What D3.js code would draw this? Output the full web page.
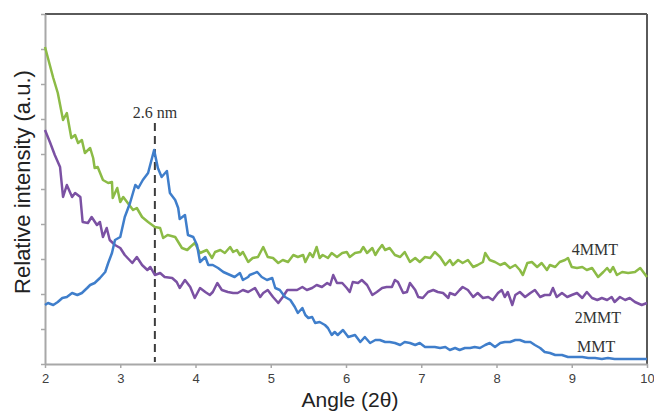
<!DOCTYPE html>
<html>
<head>
<meta charset="utf-8">
<script src="https://cdn.jsdelivr.net/npm/d3@7"></script>
<style>
  body { margin: 0; background: #fff; }
  .tick text { font-family: "Liberation Sans", Arial, sans-serif; }
</style>
</head>
<body>
<div id="graph"></div>
<script>
// [angle (2θ), relative intensity (a.u.)]
const mmt4 = [
  [2.00,317],[2.11,286],[2.17,271],[2.24,244],[2.29,251],[2.35,226],[2.40,229],[2.44,221],[2.49,224],[2.53,211],
  [2.60,216],[2.64,206],[2.66,196],[2.70,197],[2.77,184],[2.84,181],[2.89,182],[2.90,166],[2.96,176],[3.00,162],
  [3.04,167],[3.10,161],[3.17,154],[3.22,156],[3.29,147],[3.37,142],[3.46,137],[3.53,136],[3.57,126],[3.63,129],
  [3.73,127],[3.82,116],[3.89,114],[3.93,117],[3.99,121],[4.06,111],[4.15,114],[4.22,106],[4.26,112],[4.33,114],
  [4.39,111],[4.46,117],[4.50,112],[4.55,114],[4.59,109],[4.63,112],[4.70,102],[4.76,106],[4.83,107],[4.90,117],
  [4.96,107],[5.03,106],[5.10,101],[5.16,104],[5.23,102],[5.30,109],[5.36,107],[5.43,109],[5.46,102],[5.52,111],
  [5.56,107],[5.61,117],[5.65,106],[5.69,109],[5.76,106],[5.81,111],[5.88,107],[5.95,111],[6.01,112],[6.05,107],
  [6.12,111],[6.19,112],[6.23,117],[6.28,111],[6.35,116],[6.39,109],[6.43,114],[6.48,119],[6.52,114],[6.58,116],
  [6.65,109],[6.72,107],[6.78,112],[6.85,102],[6.92,106],[6.98,102],[7.05,107],[7.12,106],[7.18,112],[7.25,107],
  [7.32,99],[7.38,104],[7.42,99],[7.49,104],[7.55,101],[7.62,104],[7.69,97],[7.75,99],[7.82,102],[7.85,111],
  [7.91,104],[7.98,102],[8.05,99],[8.11,101],[8.18,96],[8.25,99],[8.31,94],[8.35,89],[8.41,101],[8.47,102],
  [8.54,97],[8.60,101],[8.67,94],[8.71,99],[8.78,97],[8.84,102],[8.91,104],[8.95,106],[9.00,97],[9.07,96],
  [9.14,97],[9.20,94],[9.27,96],[9.35,87],[9.42,92],[9.47,96],[9.51,92],[9.55,97],[9.60,89],[9.67,92],
  [9.75,91],[9.84,92],[9.91,96],[10.00,87]
];

const mmt2 = [
  [2.00,234],[2.07,221],[2.13,209],[2.20,197],[2.24,167],[2.29,179],[2.36,167],[2.40,171],[2.47,167],[2.50,142],
  [2.57,141],[2.62,147],[2.69,139],[2.73,142],[2.77,127],[2.82,136],[2.86,124],[2.93,119],[3.00,116],[3.06,109],
  [3.16,101],[3.22,107],[3.29,99],[3.36,94],[3.40,97],[3.46,89],[3.53,91],[3.59,87],[3.69,86],[3.75,82],
  [3.79,76],[3.86,84],[3.93,77],[3.99,66],[4.06,76],[4.13,72],[4.19,69],[4.23,72],[4.29,81],[4.35,74],
  [4.43,72],[4.50,71],[4.56,71],[4.63,74],[4.70,72],[4.79,76],[4.86,67],[4.90,71],[4.96,74],[5.03,67],
  [5.10,61],[5.16,67],[5.22,74],[5.28,74],[5.35,74],[5.42,77],[5.48,74],[5.55,76],[5.61,79],[5.68,77],
  [5.75,81],[5.79,79],[5.83,89],[5.88,81],[5.95,81],[6.01,76],[6.05,72],[6.09,82],[6.16,81],[6.21,84],
  [6.28,79],[6.35,69],[6.41,72],[6.48,76],[6.54,77],[6.61,77],[6.65,84],[6.69,82],[6.76,71],[6.81,72],
  [6.85,81],[6.92,74],[6.96,67],[7.02,66],[7.09,72],[7.16,74],[7.22,72],[7.29,71],[7.36,66],[7.38,71],
  [7.45,69],[7.51,74],[7.55,77],[7.62,74],[7.69,67],[7.75,71],[7.82,66],[7.89,67],[7.95,64],[8.02,71],
  [8.07,74],[8.11,67],[8.15,72],[8.21,59],[8.25,69],[8.31,72],[8.38,67],[8.45,71],[8.51,74],[8.58,67],
  [8.64,69],[8.71,69],[8.75,76],[8.80,67],[8.87,71],[8.94,67],[9.00,69],[9.07,71],[9.14,66],[9.20,72],
  [9.27,66],[9.34,64],[9.40,66],[9.47,64],[9.53,67],[9.57,62],[9.64,67],[9.71,64],[9.77,66],[9.84,62],
  [9.93,59],[10.00,61]
];

const mmt = [
  [2.00,59],[2.04,61],[2.11,59],[2.17,62],[2.23,66],[2.29,67],[2.36,71],[2.43,69],[2.49,71],[2.56,76],
  [2.60,79],[2.66,81],[2.73,86],[2.80,92],[2.84,101],[2.89,111],[2.93,124],[3.00,127],[3.06,147],[3.13,161],
  [3.20,179],[3.24,176],[3.30,184],[3.37,191],[3.45,214],[3.50,196],[3.55,187],[3.62,193],[3.66,171],[3.73,164],
  [3.77,156],[3.79,145],[3.86,149],[3.90,129],[3.97,127],[4.02,119],[4.06,102],[4.13,107],[4.17,99],[4.23,99],
  [4.30,96],[4.37,92],[4.46,89],[4.52,87],[4.59,91],[4.63,84],[4.70,87],[4.72,89],[4.82,92],[4.88,87],
  [4.95,84],[5.02,86],[5.06,76],[5.12,74],[5.19,67],[5.26,64],[5.32,57],[5.36,51],[5.42,56],[5.46,49],
  [5.50,46],[5.55,47],[5.59,41],[5.65,42],[5.72,39],[5.76,36],[5.81,29],[5.85,32],[5.89,29],[5.96,34],
  [6.03,27],[6.12,29],[6.19,22],[6.25,27],[6.32,21],[6.39,24],[6.45,24],[6.52,22],[6.58,22],[6.65,21],
  [6.72,19],[6.78,22],[6.85,21],[6.92,19],[6.98,21],[7.05,17],[7.12,17],[7.18,17],[7.25,16],[7.32,17],
  [7.38,14],[7.45,16],[7.51,14],[7.58,16],[7.65,16],[7.71,17],[7.78,16],[7.85,19],[7.91,21],[7.98,17],
  [8.05,21],[8.11,22],[8.18,22],[8.25,24],[8.31,24],[8.38,22],[8.45,22],[8.51,19],[8.58,16],[8.64,12],
  [8.71,11],[8.78,9],[8.87,9],[8.95,7],[9.04,7],[9.14,7],[9.22,6],[9.31,6],[9.40,5],[9.48,6],
  [9.57,5],[9.67,5],[9.75,5],[9.84,5],[9.93,5],[10.00,5]
];

const xTicks = [2, 3, 4, 5, 6, 7, 8, 9, 10];
const yTicks = [0, 35, 70, 105, 140, 175, 210, 245, 280, 315, 350];
const peakAngle = 3.46;

const width = 654, height = 414;
const margin = {top: 14, right: 7, bottom: 50, left: 45};
const w = width - margin.left - margin.right;
const h = height - margin.top - margin.bottom;

let svg = d3.select("#graph")
  .append("svg")
  .attr("width", width)
  .attr("height", height)
  .append("g")
  .attr("transform", `translate(${margin.left}, ${margin.top})`);

let x = d3.scaleLinear().domain([2, 10]).range([0, w]);
let y = d3.scaleLinear().domain([0, 350]).range([h, 0]);

// frame: top and right dark
svg.append("line")
  .attr("x1", 0).attr("x2", w).attr("y1", 0).attr("y2", 0)
  .attr("stroke", "#5a5a5a").attr("stroke-width", 2);
svg.append("line")
  .attr("x1", w).attr("x2", w).attr("y1", 0).attr("y2", h)
  .attr("stroke", "#5a5a5a").attr("stroke-width", 2);

// left axis, ticks only
let yAxis = svg.append("g")
  .call(d3.axisLeft(y).tickValues(yTicks).tickFormat("").tickSize(4).tickSizeOuter(0));
yAxis.select(".domain").attr("stroke", "#a8a8a8").attr("stroke-width", 2);
yAxis.selectAll(".tick line").attr("stroke", "#a8a8a8").attr("stroke-width", 1.5);

// bottom axis
let xAxis = svg.append("g")
  .attr("transform", `translate(0, ${h})`)
  .call(d3.axisBottom(x).tickValues(xTicks).tickFormat(d3.format("d")).tickSize(4).tickSizeOuter(0).tickPadding(6));
xAxis.select(".domain").attr("stroke", "#a8a8a8").attr("stroke-width", 2);
xAxis.selectAll(".tick line").attr("stroke", "#a8a8a8").attr("stroke-width", 1.5);
xAxis.selectAll(".tick text")
  .style("font-size", "13px")
  .attr("fill", "#404040");

// dashed marker at the MMT peak
svg.append("line")
  .attr("x1", x(peakAngle)).attr("x2", x(peakAngle))
  .attr("y1", y(241)).attr("y2", y(2))
  .attr("stroke", "#3c3c3c")
  .attr("stroke-width", 2)
  .attr("stroke-dasharray", "8,5");

svg.append("text")
  .attr("x", x(peakAngle))
  .attr("y", y(246))
  .attr("text-anchor", "middle")
  .style("font-family", "'Liberation Serif', 'Times New Roman', serif")
  .style("font-size", "16px")
  .attr("fill", "#333")
  .text("2.6 nm");

let line = d3.line()
  .x(function(d) { return x(d[0]); })
  .y(function(d) { return y(d[1]); });

let series = [
  {data: mmt4, color: "#8cbb46"},
  {data: mmt2, color: "#7b51a3"},
  {data: mmt, color: "#3f7ecb"}
];

series.forEach(function(s) {
  svg.append("path")
    .datum(s.data)
    .attr("fill", "none")
    .attr("stroke", s.color)
    .attr("stroke-width", 2.5)
    .attr("stroke-linejoin", "round")
    .attr("d", line);
});

// series labels
let labels = [
  {text: "4MMT", a: 9.00, v: 109},
  {text: "2MMT", a: 9.04, v: 41},
  {text: "MMT", a: 9.07, v: 12}
];
svg.selectAll(".series-label")
  .data(labels)
  .enter()
  .append("text")
  .attr("class", "series-label")
  .attr("x", function(d) { return x(d.a); })
  .attr("y", function(d) { return y(d.v); })
  .style("font-family", "'Liberation Serif', 'Times New Roman', serif")
  .style("font-size", "16px")
  .attr("fill", "#333")
  .text(function(d) { return d.text; });

// axis titles
svg.append("text")
  .attr("x", w / 2 + 4)
  .attr("y", h + 43)
  .attr("text-anchor", "middle")
  .style("font-family", "'Liberation Sans', Arial, sans-serif")
  .style("font-size", "21px")
  .attr("fill", "#222")
  .text("Angle (2θ)");

svg.append("text")
  .attr("transform", `translate(${30 - margin.left}, ${182 - margin.top}) rotate(-90)`)
  .attr("text-anchor", "middle")
  .style("font-family", "'Liberation Sans', Arial, sans-serif")
  .style("font-size", "22px")
  .attr("fill", "#222")
  .text("Relative intensity (a.u.)");
</script>
</body>
</html>
